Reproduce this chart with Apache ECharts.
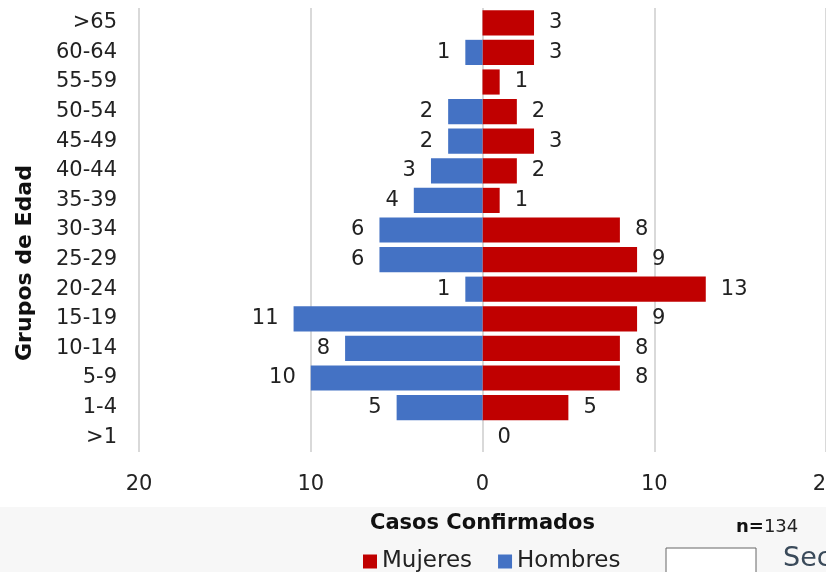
<!DOCTYPE html>
<html>
<head>
<meta charset="utf-8">
<script src="https://cdn.jsdelivr.net/npm/echarts@6/dist/echarts.min.js"></script>
<style>
  html, body { margin: 0; padding: 0; background: #fff; }
  #chart { width: 826px; height: 572px; }
</style>
</head>
<body>
<div id="chart"></div>
<script>
// grupos de edad, de arriba hacia abajo
const ageGroups = ['>65', '60-64', '55-59', '50-54', '45-49', '40-44', '35-39', '30-34', '25-29', '20-24', '15-19', '10-14', '5-9', '1-4', '>1']
const mujeres = [3, 3, 1, 2, 3, 2, 1, 8, 9, 13, 9, 8, 8, 5, 0]
const hombres = [0, 1, 0, 2, 2, 3, 4, 6, 6, 1, 11, 8, 10, 5, 0]
const totalCasos = 134

const font = '"DejaVu Sans", sans-serif'
const chart = echarts.init(document.getElementById('chart'))

chart.setOption({
  backgroundColor: '#fff',
  animation: false,
  textStyle: { fontFamily: font },
  grid: { left: 139, right: 0, top: 8, bottom: 120, containLabel: false, outerBoundsMode: 'none' },
  legend: {
    data: ['Mujeres', 'Hombres'],
    left: 358,
    top: 545,
    itemWidth: 14,
    itemHeight: 14,
    itemGap: 26,
    itemStyle: { borderWidth: 0 },
    icon: 'rect',
    textStyle: { fontFamily: font, fontSize: 23, color: '#222' }
  },
  xAxis: {
    type: 'value',
    min: -20,
    max: 20,
    interval: 10,
    axisLine: { show: false },
    axisTick: { show: false },
    splitLine: { lineStyle: { color: '#d9d9d9', width: 2 } },
    axisLabel: {
      margin: 22,
      fontSize: 21,
      color: '#222',
      formatter: v => Math.abs(v)
    },
    name: 'Casos Confirmados',
    nameLocation: 'middle',
    nameGap: 61,
    nameTextStyle: { fontSize: 21, fontWeight: 'bold', color: '#111', fontFamily: font }
  },
  yAxis: {
    type: 'category',
    inverse: true,
    data: ageGroups,
    axisLine: { show: false },
    axisTick: { show: false },
    axisLabel: { fontSize: 21, color: '#222', margin: 22 }
  },
  series: [
    {
      name: 'Mujeres',
      type: 'bar',
      stack: 'edad',
      barCategoryGap: '15%',
      data: mujeres,
      itemStyle: { color: '#c00000' },
      label: {
        show: true,
        position: 'right',
        distance: 15,
        fontSize: 21,
        color: '#222',
        formatter: p => String(p.value)
      }
    },
    {
      name: 'Hombres',
      type: 'bar',
      stack: 'edad',
      barCategoryGap: '15%',
      data: hombres.map(v => -v),
      itemStyle: { color: '#4472c4' },
      label: {
        show: true,
        position: 'left',
        distance: 15,
        fontSize: 21,
        color: '#222',
        formatter: p => (p.value === 0 ? '' : String(Math.abs(p.value)))
      }
    }
  ],
  graphic: [
    {
      type: 'rect',
      z: -10,
      shape: { x: 0, y: 507, width: 826, height: 65 },
      style: { fill: '#f7f7f7' }
    },
    {
      // titulo del eje vertical (no centrado en el grid en el original)
      type: 'text',
      x: 25,
      y: 263,
      rotation: Math.PI / 2,
      style: {
        text: 'Grupos de Edad',
        fontSize: 22,
        fontWeight: 'bold',
        fill: '#111',
        fontFamily: font,
        align: 'center',
        verticalAlign: 'middle'
      }
    },
    {
      type: 'text',
      left: 736,
      top: 518,
      style: {
        rich: {
          b: { fontSize: 18, fontWeight: 'bold', fill: '#111', fontFamily: font },
          n: { fontSize: 18, fill: '#222', fontFamily: font }
        },
        text: '{b|n=}{n|' + totalCasos + '}'
      }
    },
    {
      type: 'rect',
      shape: { x: 666, y: 548, width: 90, height: 30 },
      style: { fill: '#fff', stroke: '#666', lineWidth: 1 }
    },
    {
      type: 'text',
      left: 783,
      top: 545,
      style: { text: 'Sec', fontSize: 27, fill: '#3a4a5a', fontFamily: font }
    }
  ]
})
</script>
</body>
</html>
